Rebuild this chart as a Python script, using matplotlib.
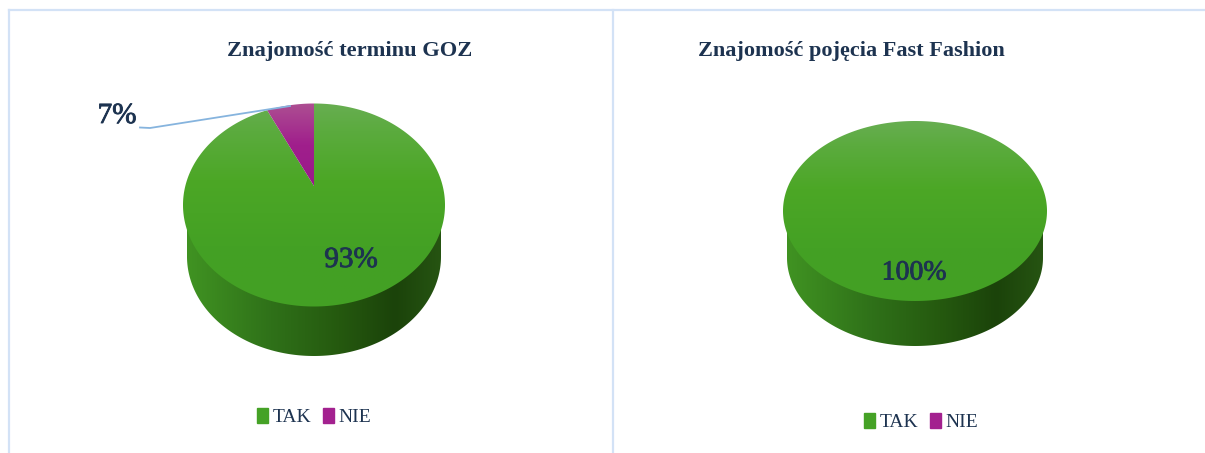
import numpy as np
import matplotlib as mpl
from matplotlib import pyplot as plt
from matplotlib import patheffects as pe
from matplotlib.colors import LinearSegmentedColormap
from matplotlib.patches import Patch, Polygon
mpl.use('Agg')

plt.rcParams['font.family'] = ['Liberation Serif', 'DejaVu Serif']

categories = ['TAK', 'NIE']
values_goz = [93, 7]
values_ff = [100, 0]
title_goz = 'Znajomość terminu GOZ'
title_ff = 'Znajomość pojęcia Fast Fashion'

W, H = 1205, 453
TEXT = '#1d3350'
LINE = '#d3e2f6'

top_green = LinearSegmentedColormap.from_list('g', [(0, '#68ae52'), (0.14, '#5bab3e'), (0.38, '#4ca726'),
                                                    (0.7, '#44a124'), (1, '#43a024')])
top_purple = LinearSegmentedColormap.from_list('p', ['#ad4f92', '#a01f8c', '#9a1a8a'])
side_green = LinearSegmentedColormap.from_list('s', [(0, '#409322'), (0.33, '#2f7119'), (0.6, '#25590f'),
                                                     (0.82, '#1b430a'), (1, '#265412')])
legend_colors = ['#45a226', '#a3218f']


# point on the pie disc -> pixel position, the centre sits above the middle of the ellipse
def project(theta, cx, cy, rx, ry, c):
    u = np.sin(theta)
    v = np.cos(theta)
    w = 1 + c * v
    return cx + rx * u * np.sqrt(1 - c ** 2) / w, cy - ry * (v + c) / w


def fill(ax, points, cmap, extent, horizontal=False):
    grad = np.linspace(0, 1, 256)
    grad = grad[None, :] if horizontal else grad[:, None]
    im = ax.imshow(grad, cmap=cmap, extent=extent, aspect='auto', zorder=2, interpolation='bilinear')
    im.set_clip_path(Polygon(points, closed=True, transform=ax.transData))


def draw_pie(ax, values, cx, cy, rx, ry, apex_y, bottom, side_rx):
    c = (cy - apex_y) / ry
    ext = [cx - rx, cx + rx, cy + ry + 1, cy - ry - 1]

    # side of the cake
    t = np.linspace(np.pi, 2 * np.pi, 200)
    bot_ry = ry * 0.98
    bot_cy = bottom - bot_ry
    side = np.column_stack([cx + side_rx * np.cos(t), bot_cy - bot_ry * np.sin(t)])
    side = np.vstack([[cx - rx, cy], side, [cx + rx, cy]])
    fill(ax, side, side_green, [cx - side_rx, cx + side_rx, bottom, cy], horizontal=True)

    # top, first slice clockwise from 12 o'clock
    total = sum(values)
    big = values[0] / total * 2 * np.pi
    th = np.linspace(0, big, 400)
    x, y = project(th, cx, cy, rx, ry, c)
    pts = np.column_stack([x, y])
    if values[1] > 0:
        pts = np.vstack([[cx, apex_y], pts])
    fill(ax, pts, top_green, ext)
    if values[1] > 0:
        th = np.linspace(big, 2 * np.pi, 60)
        x, y = project(th, cx, cy, rx, ry, c)
        pts = np.vstack([[cx, apex_y], np.column_stack([x, y])])
        fill(ax, pts, top_purple, [cx - rx, cx + rx, apex_y, cy - ry])


fig = plt.figure(figsize=(W / 100, H / 100), dpi=100)
panels = [(0, 612), (612, W)]
axes = []
for x0, x1 in panels:
    ax = fig.add_axes([x0 / W, 0, (x1 - x0) / W, 1])
    axes.append(ax)

ax1, ax2 = axes
draw_pie(ax1, values_goz, 314, 205, 131, 101.5, 186, 356, 127)
draw_pie(ax2, values_ff, 915, 211, 132, 90, 195, 346, 128)

for ax, (x0, x1) in zip(axes, panels):
    ax.set_xlim(x0, x1)
    ax.set_ylim(H, 0)
    ax.axis('off')

ax1.plot([140, 150, 290], [127.5, 128, 106], color='#86b4de', lw=1.3, zorder=3)

heavy = [pe.withStroke(linewidth=0.6, foreground=TEXT)]
ax1.text(350, 51, title_goz, ha='center', va='center', fontsize=16.2, fontweight='bold', color=TEXT)
ax2.text(851, 51, title_ff, ha='center', va='center', fontsize=16, fontweight='bold', color=TEXT)
ax1.text(117, 116, f'{values_goz[1]}%', ha='center', va='center', fontsize=21, color=TEXT, path_effects=heavy)
ax1.text(351, 260, f'{values_goz[0]}%', ha='center', va='center', fontsize=21, color=TEXT, path_effects=heavy)
ax2.text(914, 273, f'{values_ff[0]}%', ha='center', va='center', fontsize=20, color=TEXT, path_effects=heavy)

handles = [Patch(color=col, label=cat) for col, cat in zip(legend_colors, categories)]
for ax, xc, yc in [(ax1, 314.5, 417), (ax2, 921.5, 422)]:
    ax.legend(handles=handles, loc='center', bbox_to_anchor=(xc, yc), bbox_transform=ax.transData,
              ncol=2, frameon=False, fontsize=14, labelcolor=TEXT, handlelength=0.55, handleheight=0.8,
              handletextpad=0.25, columnspacing=0.6, borderpad=0, borderaxespad=0)

fig.add_artist(plt.Line2D([8.5 / W, 1], [1 - 10 / H, 1 - 10 / H], color=LINE, lw=1.6))
fig.add_artist(plt.Line2D([8.5 / W, 8.5 / W], [0, 1 - 10 / H], color=LINE, lw=1.6))
fig.add_artist(plt.Line2D([612.5 / W, 612.5 / W], [0, 1 - 10 / H], color=LINE, lw=1.6))

fig.savefig('out.png', dpi=100)
